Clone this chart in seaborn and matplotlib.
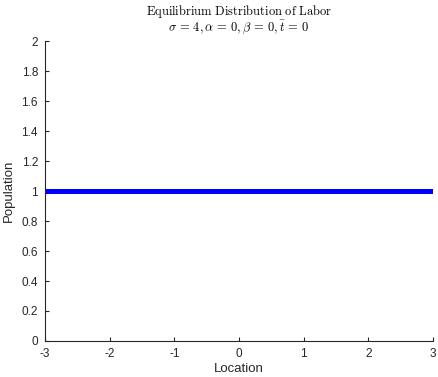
import matplotlib
matplotlib.use("Agg")
import matplotlib.pyplot as plt
import seaborn as sns
import pandas as pd

# Equilibrium labor distribution over the location grid
location = [-3, -2, -1, 0, 1, 2, 3]
population = [1, 1, 1, 1, 1, 1, 1]

x_ticks = [-3, -2, -1, 0, 1, 2, 3]
y_ticks = [0, 0.2, 0.4, 0.6, 0.8, 1, 1.2, 1.4, 1.6, 1.8, 2]

sns.set_style("ticks")
plt.rcParams["font.family"] = ["Liberation Sans", "DejaVu Sans"]
plt.rcParams["mathtext.fontset"] = "cm"
plt.rcParams["axes.unicode_minus"] = False

axis_color = "#262626"

fig = plt.figure(figsize=(4.38, 3.77), dpi=100)
ax = fig.add_axes([0.1027, 0.0955, 0.8859, 0.7957])

df = pd.DataFrame({"Location": location, "Population": population})
sns.lineplot(data=df, x="Location", y="Population", ax=ax,
             color="#0000ff", linewidth=3.6, solid_capstyle="butt")

ax.set_xlim(-3, 3)
ax.set_ylim(0, 2)
ax.set_xticks(x_ticks)
ax.set_xticklabels([f"{t:g}" for t in x_ticks])
ax.set_yticks(y_ticks)
ax.set_yticklabels([f"{t:g}" for t in y_ticks])

for side in ("top", "right"):
    ax.spines[side].set_visible(False)
for side in ("left", "bottom"):
    ax.spines[side].set_color(axis_color)
    ax.spines[side].set_linewidth(0.8)

ax.tick_params(direction="in", length=3, width=0.8, colors=axis_color,
               labelsize=8.5, pad=5)
ax.set_xlabel("Location", fontsize=9.5, color=axis_color, labelpad=2)
ax.set_ylabel("Population", fontsize=9.5, color=axis_color, labelpad=5)

# Two-line title: heading and parameter values
ax.text(0.5, 1.097, r"$\mathrm{Equilibrium\ Distribution\ of\ Labor}$",
        transform=ax.transAxes, ha="center", va="center", fontsize=9,
        color="black")
ax.text(0.5, 1.045, r"$\sigma\,=\,4,\alpha\,=\,0,\beta\,=\,0,\bar{t}\,=\,0$",
        transform=ax.transAxes, ha="center", va="center", fontsize=9,
        color="black")

fig.savefig("out.png", dpi=100)
